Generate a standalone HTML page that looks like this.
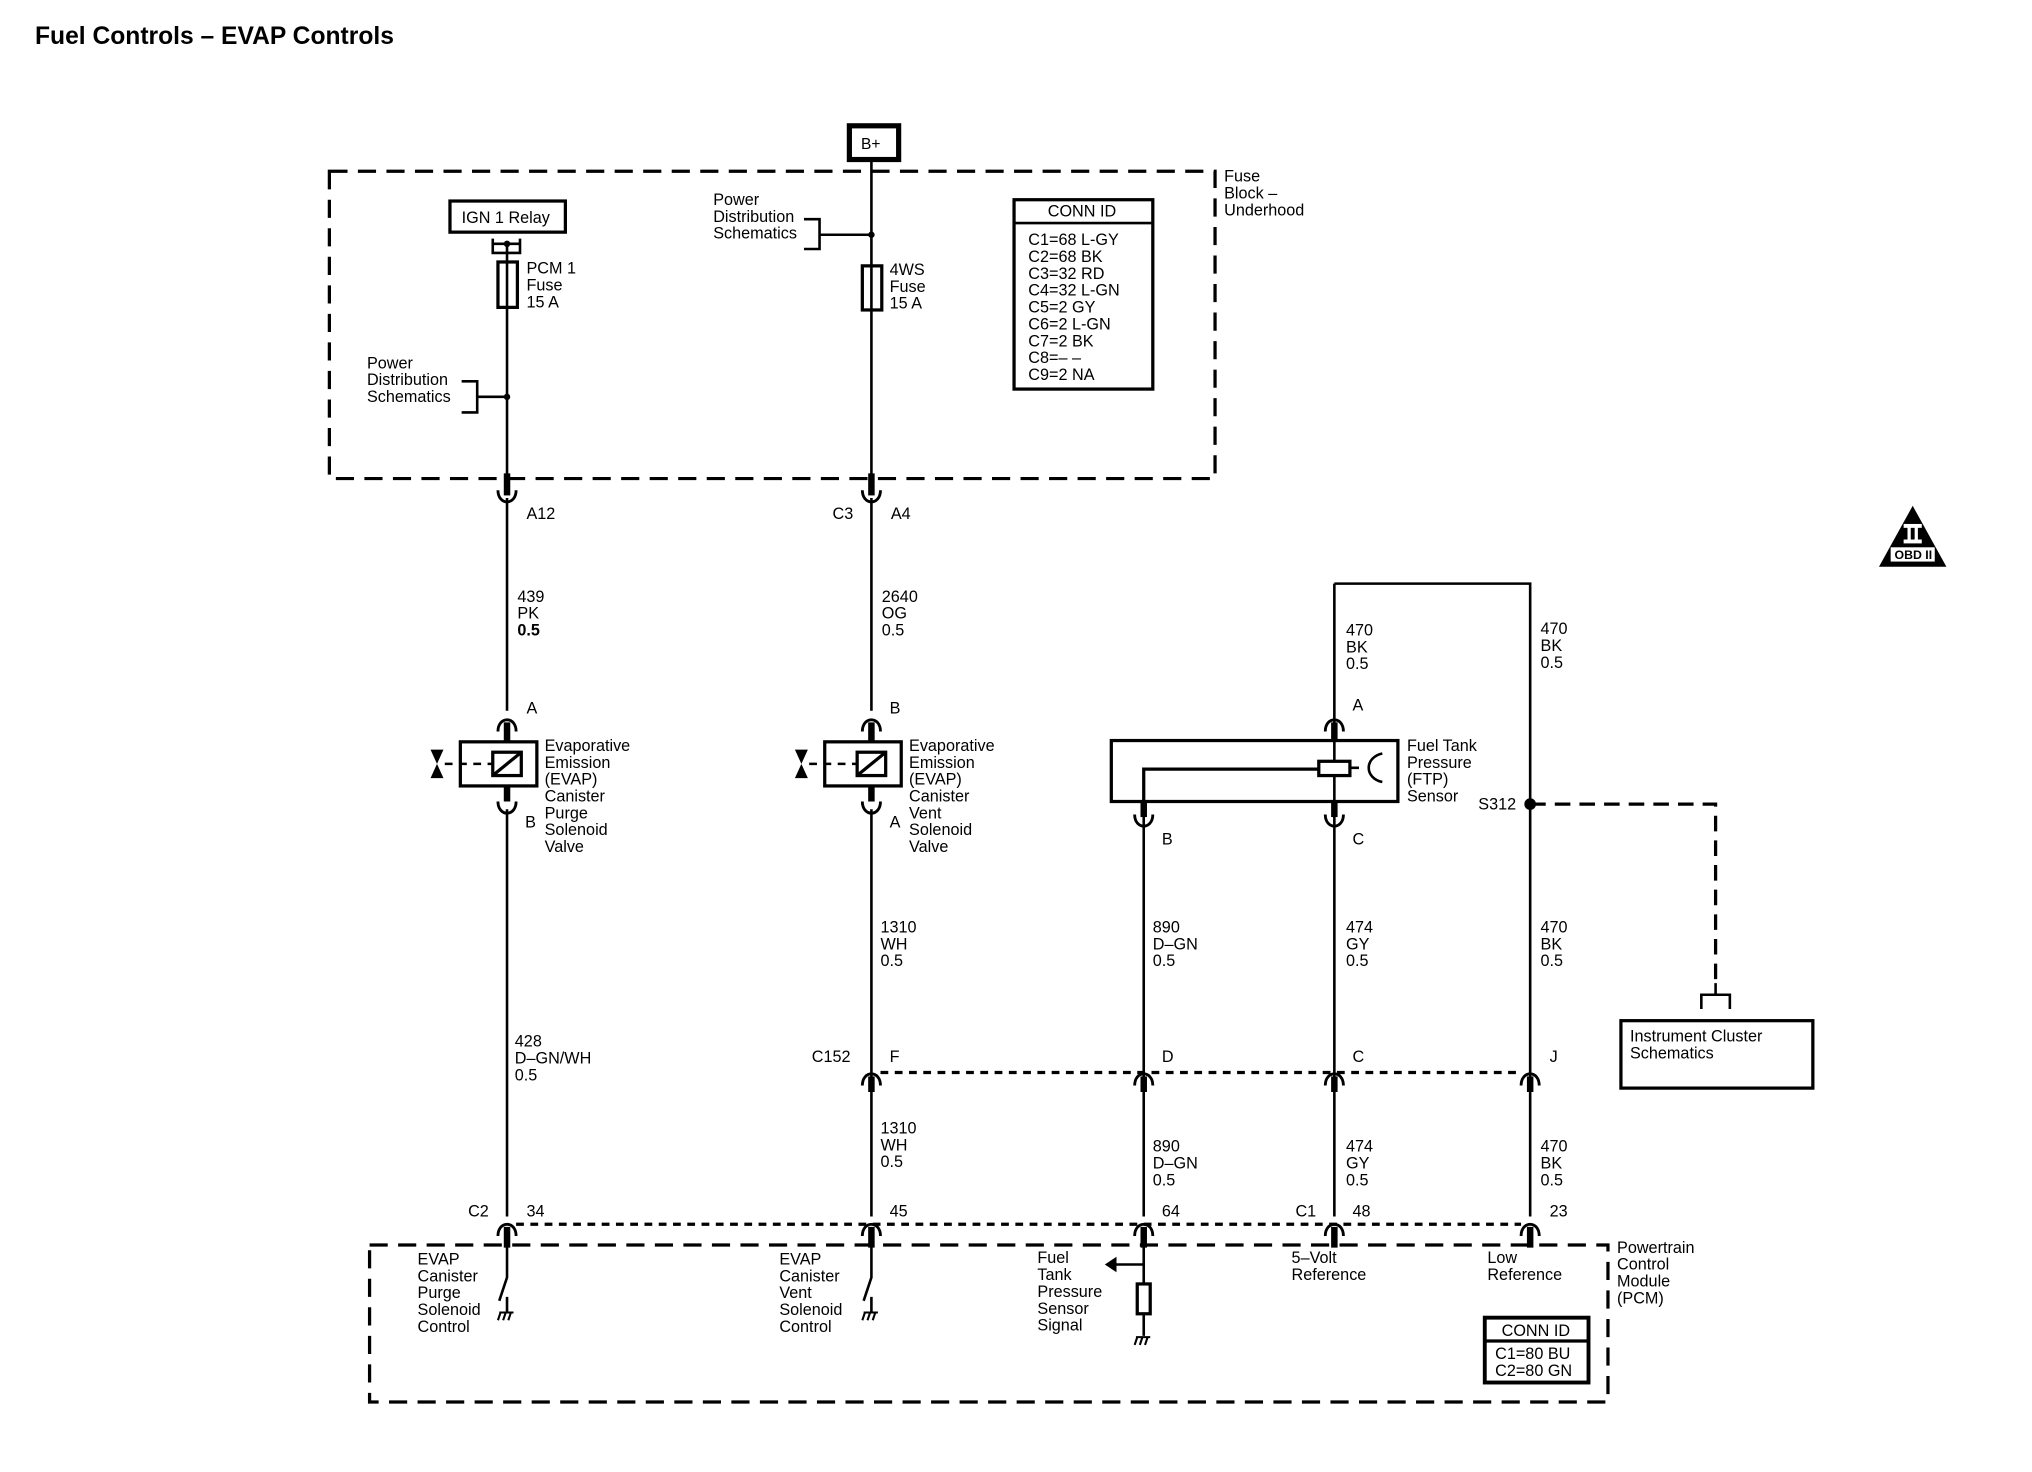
<!DOCTYPE html>
<html><head><meta charset="utf-8"><style>
html,body{margin:0;padding:0;background:#fff;}
svg{display:block}
text{font-family:"Liberation Sans",sans-serif;font-size:12.5px;fill:#000}
</style></head><body>
<svg width="2032" height="1472" viewBox="0 0 1567 1135" preserveAspectRatio="none" xmlns="http://www.w3.org/2000/svg">
<defs>
<path id="cup" d="M-7,-8 C-7,4 7,4 7,-8" fill="none" stroke="#000" stroke-width="2.2"/>
<path id="cap" d="M-7,8 C-7,-4 7,-4 7,8" fill="none" stroke="#000" stroke-width="2.2"/>
<g id="gnd"><path d="M-5,10 L-7,16 M-1,10 L-3,16 M3,10 L1,16 M-6,10 L5,10" stroke="#000" stroke-width="1.6" fill="none"/></g>
</defs>
<text x="27" y="34" style="font-size:19px;font-weight:bold">Fuel Controls – EVAP Controls</text>

<!-- B+ -->
<rect x="655" y="97" width="38" height="26" fill="none" stroke="#000" stroke-width="4"/>
<text x="664" y="115" style="font-size:12px">B+</text>

<!-- Fuse block -->
<rect x="254" y="132" width="683" height="237" fill="none" stroke="#000" stroke-width="2.5" stroke-dasharray="14 8"/>
<text x="944" y="140">Fuse</text><text x="944" y="153">Block –</text><text x="944" y="166">Underhood</text>

<rect x="347" y="155" width="89" height="24" fill="none" stroke="#000" stroke-width="2.5"/>
<text x="356" y="172">IGN 1 Relay</text>
<path d="M380,184 V195 H401 V184 M380,188 H401" fill="none" stroke="#000" stroke-width="2"/>
<circle cx="391" cy="188" r="2.5"/>
<g stroke="#000" fill="none">
<line x1="391" y1="188" x2="391" y2="375" stroke-width="2"/>
<line x1="391" y1="365" x2="391" y2="382" stroke-width="5"/>
<rect x="384" y="202" width="15" height="35" stroke-width="2.5" fill="#fff"/>
<line x1="391" y1="202" x2="391" y2="237" stroke-width="2"/>
<path d="M356,294 H368 V318 H356 M368,306 H391" stroke-width="2"/>
</g>
<circle cx="391" cy="306" r="2.5"/>
<text x="406" y="211">PCM 1</text><text x="406" y="224">Fuse</text><text x="406" y="237">15 A</text>
<text x="283" y="284">Power</text><text x="283" y="297">Distribution</text><text x="283" y="310">Schematics</text>

<g stroke="#000" fill="none">
<line x1="672" y1="123" x2="672" y2="375" stroke-width="2"/>
<line x1="672" y1="365" x2="672" y2="382" stroke-width="5"/>
<rect x="665" y="205" width="15" height="34" stroke-width="2.5" fill="#fff"/>
<line x1="672" y1="205" x2="672" y2="239" stroke-width="2"/>
<path d="M620,169 H632 V192 H620 M632,181 H672" stroke-width="2"/>
</g>
<circle cx="672" cy="181" r="2.5"/>
<text x="550" y="158">Power</text><text x="550" y="171">Distribution</text><text x="550" y="184">Schematics</text>
<text x="686" y="212">4WS</text><text x="686" y="225">Fuse</text><text x="686" y="238">15 A</text>

<rect x="782" y="154" width="107" height="146" fill="none" stroke="#000" stroke-width="2.5"/>
<line x1="782" y1="172" x2="889" y2="172" stroke="#000" stroke-width="2"/>
<text x="808" y="167">CONN ID</text>
<text x="793" y="189">C1=68 L-GY</text><text x="793" y="202">C2=68 BK</text><text x="793" y="215">C3=32 RD</text>
<text x="793" y="228">C4=32 L-GN</text><text x="793" y="241">C5=2 GY</text><text x="793" y="254">C6=2 L-GN</text>
<text x="793" y="267">C7=2 BK</text><text x="793" y="280">C8=– –</text><text x="793" y="293">C9=2 NA</text>

<!-- upper connectors -->
<use href="#cup" x="391" y="386"/><use href="#cup" x="672" y="386"/>
<text x="406" y="400">A12</text><text x="642" y="400">C3</text><text x="687" y="400">A4</text>

<!-- vertical wires -->
<g stroke="#000" stroke-width="2" fill="none">
<line x1="391" y1="384" x2="391" y2="548"/>
<line x1="391" y1="624" x2="391" y2="938"/>
<line x1="672" y1="384" x2="672" y2="548"/>
<line x1="672" y1="624" x2="672" y2="938"/>
<line x1="882" y1="628" x2="882" y2="938"/>
<line x1="1029" y1="450" x2="1029" y2="938"/>
<path d="M1029,450 H1180 V938"/>
</g>
<g stroke="#000" stroke-width="5">
<line x1="391" y1="557" x2="391" y2="572"/><line x1="391" y1="606" x2="391" y2="618"/>
<line x1="672" y1="557" x2="672" y2="572"/><line x1="672" y1="606" x2="672" y2="618"/>
<line x1="1029" y1="557" x2="1029" y2="572"/><line x1="1029" y1="618" x2="1029" y2="630"/>
<line x1="882" y1="618" x2="882" y2="630"/>
<line x1="672" y1="830" x2="672" y2="842"/><line x1="882" y1="830" x2="882" y2="842"/>
<line x1="1029" y1="830" x2="1029" y2="842"/><line x1="1180" y1="830" x2="1180" y2="842"/>
<line x1="391" y1="946" x2="391" y2="962"/><line x1="672" y1="946" x2="672" y2="962"/>
<line x1="882" y1="946" x2="882" y2="962"/><line x1="1029" y1="946" x2="1029" y2="962"/>
<line x1="1180" y1="946" x2="1180" y2="962"/>
</g>

<text x="399" y="464">439</text><text x="399" y="477">PK</text><text x="399" y="490" font-weight="bold">0.5</text>
<text x="680" y="464">2640</text><text x="680" y="477">OG</text><text x="680" y="490">0.5</text>

<!-- solenoids -->
<g id="sol">
<use href="#cap" x="391" y="556"/>
<rect x="355" y="572" width="59" height="34" fill="none" stroke="#000" stroke-width="2.5"/>
<rect x="380" y="580" width="22" height="18" fill="#fff" stroke="#000" stroke-width="2.5"/>
<line x1="380" y1="598" x2="402" y2="580" stroke="#000" stroke-width="2.5"/>
<line x1="343" y1="589" x2="380" y2="589" stroke="#000" stroke-width="2" stroke-dasharray="6 5"/>
<path d="M332,578 H342 L332,600 H342 Z" fill="#000"/>
<use href="#cup" x="391" y="626"/>
</g>
<use href="#sol" x="281"/>
<text x="406" y="550">A</text><text x="405" y="638">B</text>
<text x="686" y="550">B</text><text x="686" y="638">A</text>
<g>
<text x="420" y="579">Evaporative</text><text x="420" y="592">Emission</text><text x="420" y="605">(EVAP)</text><text x="420" y="618">Canister</text><text x="420" y="631">Purge</text><text x="420" y="644">Solenoid</text><text x="420" y="657">Valve</text>
<text x="701" y="579">Evaporative</text><text x="701" y="592">Emission</text><text x="701" y="605">(EVAP)</text><text x="701" y="618">Canister</text><text x="701" y="631">Vent</text><text x="701" y="644">Solenoid</text><text x="701" y="657">Valve</text>
</g>

<!-- FTP sensor -->
<use href="#cap" x="1029" y="556"/>
<rect x="857" y="571" width="221" height="47" fill="none" stroke="#000" stroke-width="2.5"/>
<path d="M882,628 V593 H1017" fill="none" stroke="#000" stroke-width="2.5"/>
<rect x="1017" y="587" width="24" height="11" fill="#fff" stroke="#000" stroke-width="2.5"/>
<path d="M1041,592 H1048 M1066,581 C1052,584 1052,600 1066,603" fill="none" stroke="#000" stroke-width="2"/>
<use href="#cup" x="882" y="636"/><use href="#cup" x="1029" y="636"/>
<text x="1043" y="548">A</text><text x="896" y="651">B</text><text x="1043" y="651">C</text>
<text x="1085" y="579">Fuel Tank</text><text x="1085" y="592">Pressure</text><text x="1085" y="605">(FTP)</text><text x="1085" y="618">Sensor</text>
<text x="1038" y="490">470</text><text x="1038" y="503">BK</text><text x="1038" y="516">0.5</text>
<text x="1188" y="489">470</text><text x="1188" y="502">BK</text><text x="1188" y="515">0.5</text>

<!-- S312 -->
<circle cx="1180" cy="620" r="4.5"/>
<text x="1140" y="624">S312</text>
<path d="M1180,620 H1323 V762" fill="none" stroke="#000" stroke-width="2.5" stroke-dasharray="12 7"/>
<path d="M1323,758 V767 M1312,778 V767 H1334 V778" fill="none" stroke="#000" stroke-width="2"/>
<rect x="1250" y="787" width="148" height="52" fill="none" stroke="#000" stroke-width="2.5"/>
<text x="1257" y="803">Instrument Cluster</text><text x="1257" y="816">Schematics</text>

<!-- OBD II -->
<path d="M1475,390 L1501,437 H1449 Z" fill="#000"/>
<rect x="1468" y="404" width="14" height="3" fill="#fff"/><rect x="1468" y="416" width="14" height="3" fill="#fff"/>
<rect x="1471" y="406" width="2.5" height="11" fill="#fff"/><rect x="1476.5" y="406" width="2.5" height="11" fill="#fff"/>
<rect x="1458" y="422" width="34" height="11" fill="#fff"/>
<text x="1461" y="431" style="font-size:9.5px;font-weight:bold">OBD II</text>

<!-- mid labels -->
<text x="397" y="807">428</text><text x="397" y="820">D–GN/WH</text><text x="397" y="833">0.5</text>
<text x="679" y="719">1310</text><text x="679" y="732">WH</text><text x="679" y="745">0.5</text>
<text x="889" y="719">890</text><text x="889" y="732">D–GN</text><text x="889" y="745">0.5</text>
<text x="1038" y="719">474</text><text x="1038" y="732">GY</text><text x="1038" y="745">0.5</text>
<text x="1188" y="719">470</text><text x="1188" y="732">BK</text><text x="1188" y="745">0.5</text>

<!-- C152 -->
<line x1="679" y1="827" x2="1173" y2="827" stroke="#000" stroke-width="2.5" stroke-dasharray="6 5"/>
<use href="#cap" x="672" y="829"/><use href="#cap" x="882" y="829"/><use href="#cap" x="1029" y="829"/><use href="#cap" x="1180" y="829"/>
<text x="626" y="819">C152</text><text x="686" y="819">F</text><text x="896" y="819">D</text><text x="1043" y="819">C</text><text x="1195" y="819">J</text>

<text x="679" y="874">1310</text><text x="679" y="887">WH</text><text x="679" y="900">0.5</text>
<text x="889" y="888">890</text><text x="889" y="901">D–GN</text><text x="889" y="914">0.5</text>
<text x="1038" y="888">474</text><text x="1038" y="901">GY</text><text x="1038" y="914">0.5</text>
<text x="1188" y="888">470</text><text x="1188" y="901">BK</text><text x="1188" y="914">0.5</text>

<!-- PCM connectors -->
<line x1="398" y1="944" x2="1173" y2="944" stroke="#000" stroke-width="2.5" stroke-dasharray="6 5"/>
<use href="#cap" x="391" y="945"/><use href="#cap" x="672" y="945"/><use href="#cap" x="882" y="945"/><use href="#cap" x="1029" y="945"/><use href="#cap" x="1180" y="945"/>
<text x="361" y="938">C2</text><text x="406" y="938">34</text><text x="686" y="938">45</text><text x="896" y="938">64</text>
<text x="999" y="938">C1</text><text x="1043" y="938">48</text><text x="1195" y="938">23</text>

<rect x="285" y="960" width="955" height="121" fill="none" stroke="#000" stroke-width="2.5" stroke-dasharray="14 8"/>
<g stroke="#000" stroke-width="2" fill="none">
<path d="M391,960 V985 L385,1003 M391,1000 V1012"/>
<path d="M672,960 V985 L666,1003 M672,1000 V1012"/>
<path d="M882,960 V1030"/>
<path d="M882,975 H860"/>
</g>
<path d="M852,975 L861,969 V981 Z" fill="#000"/>
<rect x="877" y="990" width="10" height="23" fill="#fff" stroke="#000" stroke-width="2.5"/>
<use href="#gnd" x="391" y="1002"/><use href="#gnd" x="672" y="1002"/><use href="#gnd" x="882" y="1021"/>
<text x="322" y="975">EVAP</text><text x="322" y="988">Canister</text><text x="322" y="1001">Purge</text><text x="322" y="1014">Solenoid</text><text x="322" y="1027">Control</text>
<text x="601" y="975">EVAP</text><text x="601" y="988">Canister</text><text x="601" y="1001">Vent</text><text x="601" y="1014">Solenoid</text><text x="601" y="1027">Control</text>
<text x="800" y="974">Fuel</text><text x="800" y="987">Tank</text><text x="800" y="1000">Pressure</text><text x="800" y="1013">Sensor</text><text x="800" y="1026">Signal</text>
<text x="996" y="974">5–Volt</text><text x="996" y="987">Reference</text>
<text x="1147" y="974">Low</text><text x="1147" y="987">Reference</text>
<text x="1247" y="966">Powertrain</text><text x="1247" y="979">Control</text><text x="1247" y="992">Module</text><text x="1247" y="1005">(PCM)</text>
<rect x="1145" y="1016" width="80" height="50" fill="none" stroke="#000" stroke-width="3"/>
<line x1="1145" y1="1034" x2="1225" y2="1034" stroke="#000" stroke-width="2.5"/>
<text x="1158" y="1030">CONN ID</text>
<text x="1153" y="1048">C1=80 BU</text><text x="1153" y="1061">C2=80 GN</text>
</svg>
</body></html>
